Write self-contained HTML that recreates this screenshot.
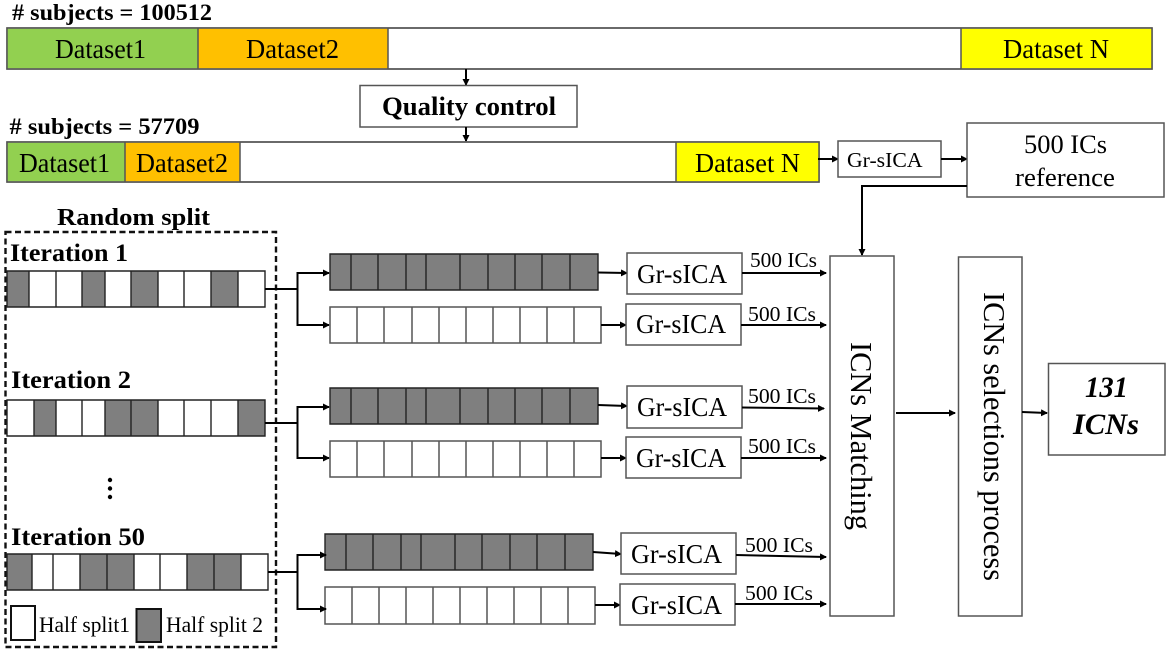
<!DOCTYPE html>
<html>
<head>
<meta charset="utf-8">
<style>
html,body{margin:0;padding:0;background:#fff;width:1170px;height:652px;overflow:hidden}
svg{display:block}
text{font-family:"Liberation Serif",serif;fill:#000}
.b{font-weight:bold}
.box{fill:#fff;stroke:#555;stroke-width:1.5}
.g{fill:#7f7f7f;stroke:none}
.o{fill:none;stroke:#555;stroke-width:1.5}
.d{fill:none;stroke:#333;stroke-width:1.2}
.dd{fill:none;stroke:#222;stroke-width:1.4}
.a{fill:none;stroke:#000;stroke-width:2}
</style>
</head>
<body>
<svg width="1170" height="652" viewBox="0 0 1170 652" xmlns="http://www.w3.org/2000/svg">
<defs>
<marker id="m" markerUnits="userSpaceOnUse" markerWidth="8" markerHeight="8" refX="6" refY="3.500" orient="auto"><path d="M0,0L7,3.500L0,7z" fill="#000"/></marker>
</defs>

<!-- top bar -->
<text class="b" x="12" y="20" font-size="23" textLength="200" lengthAdjust="spacingAndGlyphs"># subjects = 100512</text>
<rect x="7" y="28" width="1145" height="41" class="box"/>
<rect x="7" y="28.700" width="191" height="39.600" fill="#92d050"/>
<rect x="198" y="28.700" width="190" height="39.600" fill="#ffc000"/>
<rect x="961" y="28.700" width="191" height="39.600" fill="#ffff00"/>
<path class="o" d="M7,28H1152V69H7ZM198,28V69M388,28V69M961,28V69"/>
<text x="55" y="58" font-size="27" textLength="91" lengthAdjust="spacingAndGlyphs">Dataset1</text>
<text x="246" y="58" font-size="27" textLength="93" lengthAdjust="spacingAndGlyphs">Dataset2</text>
<text x="1003" y="58" font-size="27" textLength="106" lengthAdjust="spacingAndGlyphs">Dataset N</text>

<!-- quality control -->
<path class="a" d="M466,69V85" marker-end="url(#m)"/>
<rect x="360" y="85.500" width="217" height="41.500" class="box"/>
<text class="b" x="382" y="115" font-size="26" textLength="174" lengthAdjust="spacingAndGlyphs">Quality control</text>
<path class="a" d="M466,127V141" marker-end="url(#m)"/>

<!-- second bar -->
<text class="b" x="9.500" y="134" font-size="23" textLength="190" lengthAdjust="spacingAndGlyphs"># subjects = 57709</text>
<rect x="7" y="142" width="812" height="40" class="box"/>
<rect x="7" y="142.700" width="118" height="38.600" fill="#92d050"/>
<rect x="125" y="142.700" width="115" height="38.600" fill="#ffc000"/>
<rect x="676" y="142.700" width="143" height="38.600" fill="#ffff00"/>
<path class="o" d="M7,142H819V182H7ZM125,142V182M240,142V182M676,142V182"/>
<text x="19" y="172" font-size="27" textLength="91" lengthAdjust="spacingAndGlyphs">Dataset1</text>
<text x="136" y="172" font-size="27" textLength="92" lengthAdjust="spacingAndGlyphs">Dataset2</text>
<text x="695" y="172" font-size="27" textLength="105" lengthAdjust="spacingAndGlyphs">Dataset N</text>

<path class="a" d="M818,159H838" marker-end="url(#m)"/>
<rect x="838" y="141" width="103" height="36" class="box"/>
<text x="847" y="167" font-size="21" textLength="75.500" lengthAdjust="spacingAndGlyphs">Gr-sICA</text>
<path class="a" d="M941,159H967" marker-end="url(#m)"/>
<rect x="967" y="123" width="197" height="74" class="box"/>
<text x="1024" y="153" font-size="26" textLength="83" lengthAdjust="spacingAndGlyphs">500 ICs</text>
<text x="1015" y="186" font-size="26" textLength="100" lengthAdjust="spacingAndGlyphs">reference</text>
<path class="a" d="M967,186H862V255" marker-end="url(#m)"/>

<!-- random split -->
<text class="b" x="57" y="225" font-size="24" textLength="153" lengthAdjust="spacingAndGlyphs">Random split</text>
<rect x="5.500" y="232" width="270.500" height="415" fill="none" stroke="#111" stroke-width="2.400" stroke-dasharray="6 3.500"/>

<text class="b" x="10" y="261" font-size="25" textLength="118" lengthAdjust="spacingAndGlyphs">Iteration 1</text>
<g>
<rect class="g" x="7" y="271" width="22" height="36"/>
<rect class="g" x="82" y="271" width="23" height="36"/>
<rect class="g" x="131" y="271" width="27" height="36"/>
<rect class="g" x="211" y="271" width="27" height="36"/>
<path class="dd" d="M7,271H265V307H7ZM29,271V307M56,271V307M82,271V307M105,271V307M131,271V307M158,271V307M184,271V307M211,271V307M238,271V307"/>
</g>

<text class="b" x="11" y="388" font-size="25" textLength="120" lengthAdjust="spacingAndGlyphs">Iteration 2</text>
<g>
<rect class="g" x="34" y="400" width="22" height="36"/>
<rect class="g" x="105" y="400" width="53" height="36"/>
<rect class="g" x="238" y="400" width="27" height="36"/>
<path class="dd" d="M7,400H265V436H7ZM34,400V436M56,400V436M82,400V436M105,400V436M131,400V436M158,400V436M184,400V436M211,400V436M238,400V436"/>
</g>

<circle cx="110" cy="480" r="2.200" fill="#000"/>
<circle cx="110" cy="488.500" r="2.200" fill="#000"/>
<circle cx="110" cy="497" r="2.200" fill="#000"/>

<text class="b" x="11" y="545" font-size="25" textLength="134" lengthAdjust="spacingAndGlyphs">Iteration 50</text>
<g>
<rect class="g" x="7" y="554" width="25" height="36"/>
<rect class="g" x="80" y="554" width="54" height="36"/>
<rect class="g" x="187" y="554" width="54" height="36"/>
<path class="dd" d="M7,554H268V590H7ZM32,554V590M53,554V590M80,554V590M107,554V590M134,554V590M160,554V590M187,554V590M214,554V590M241,554V590"/>
</g>

<rect x="11" y="606" width="24" height="34" fill="#fff" stroke="#111" stroke-width="2"/>
<text x="39" y="632" font-size="22" textLength="91" lengthAdjust="spacingAndGlyphs">Half split1</text>
<rect x="136.500" y="609" width="24.500" height="33" fill="#7f7f7f" stroke="#111" stroke-width="2"/>
<text x="166" y="632" font-size="22" textLength="97" lengthAdjust="spacingAndGlyphs">Half split 2</text>

<!-- split connectors -->
<path class="a" d="M265,289H297.500"/>
<path class="a" d="M297.500,289V273H329" marker-end="url(#m)"/>
<path class="a" d="M297.500,289V325H329" marker-end="url(#m)"/>
<path class="a" d="M265,423H297.500"/>
<path class="a" d="M297.500,423V407H329" marker-end="url(#m)"/>
<path class="a" d="M297.500,423V458H329" marker-end="url(#m)"/>
<path class="a" d="M268,572H297.500"/>

<!-- right bars -->
<rect class="g" x="330" y="254" width="268" height="36"/>
<path class="dd" d="M330,254H598V290H330ZM351,254V290M378,254V290M406,254V290M426,254V290M460,254V290M488,254V290M515,254V290M542,254V290M570,254V290"/>
<path class="o" d="M330,307H601V343H330ZM357,307V343M384,307V343M412,307V343M439,307V343M466,307V343M493,307V343M520,307V343M547,307V343M574,307V343"/>
<rect class="g" x="330" y="388" width="268" height="36"/>
<path class="dd" d="M330,388H598V424H330ZM351,388V424M378,388V424M406,388V424M426,388V424M460,388V424M488,388V424M515,388V424M542,388V424M570,388V424"/>
<path class="o" d="M330,441H601V477H330ZM357,441V477M384,441V477M412,441V477M439,441V477M466,441V477M493,441V477M520,441V477M547,441V477M574,441V477"/>
<rect class="g" x="325" y="534" width="268" height="36"/>
<path class="dd" d="M325,534H593V570H325ZM346,534V570M373,534V570M401,534V570M421,534V570M455,534V570M482,534V570M510,534V570M537,534V570M565,534V570"/>
<path class="o" d="M325,587H595V624H325ZM352,587V624M379,587V624M406,587V624M433,587V624M460,587V624M487,587V624M514,587V624M541,587V624M568,587V624"/>

<!-- iteration 50 arrows drawn over the bar edge -->
<path class="a" d="M297.500,572V555H326" marker-end="url(#m)"/>
<path class="a" d="M297.500,572V609H326" marker-end="url(#m)"/>

<!-- bar to Gr-sICA -->
<path class="a" d="M598,272.500L627,273" marker-end="url(#m)"/>
<path class="a" d="M601,325L626,325" marker-end="url(#m)"/>
<path class="a" d="M598,405L627,406" marker-end="url(#m)"/>
<path class="a" d="M601,458L626,458" marker-end="url(#m)"/>
<path class="a" d="M593,552L621,554" marker-end="url(#m)"/>
<path class="a" d="M595,605L620,605" marker-end="url(#m)"/>

<!-- Gr-sICA boxes -->
<rect x="627" y="253" width="115" height="41" class="box"/>
<text x="637" y="283" font-size="27" textLength="90" lengthAdjust="spacingAndGlyphs">Gr-sICA</text>
<rect x="626" y="304" width="115" height="41" class="box"/>
<text x="636" y="333" font-size="27" textLength="90" lengthAdjust="spacingAndGlyphs">Gr-sICA</text>
<rect x="627" y="386" width="115" height="42" class="box"/>
<text x="637" y="416" font-size="27" textLength="90" lengthAdjust="spacingAndGlyphs">Gr-sICA</text>
<rect x="626" y="437" width="115" height="41" class="box"/>
<text x="636" y="467" font-size="27" textLength="90" lengthAdjust="spacingAndGlyphs">Gr-sICA</text>
<rect x="621" y="533" width="115" height="41" class="box"/>
<text x="631" y="563" font-size="27" textLength="91" lengthAdjust="spacingAndGlyphs">Gr-sICA</text>
<rect x="620" y="584" width="115" height="41" class="box"/>
<text x="631" y="614" font-size="27" textLength="91" lengthAdjust="spacingAndGlyphs">Gr-sICA</text>

<!-- 500 ICs arrows -->
<path class="a" d="M742,273H826" marker-end="url(#m)"/>
<text x="750" y="267" font-size="21" textLength="67" lengthAdjust="spacingAndGlyphs">500 ICs</text>
<path class="a" d="M741,325H826" marker-end="url(#m)"/>
<text x="748" y="321" font-size="21" textLength="68" lengthAdjust="spacingAndGlyphs">500 ICs</text>
<path class="a" d="M742,407.500L824,408.500" marker-end="url(#m)"/>
<text x="748" y="403" font-size="21" textLength="68" lengthAdjust="spacingAndGlyphs">500 ICs</text>
<path class="a" d="M741,458H826" marker-end="url(#m)"/>
<text x="748" y="453" font-size="21" textLength="68" lengthAdjust="spacingAndGlyphs">500 ICs</text>
<path class="a" d="M736,555L826,557" marker-end="url(#m)"/>
<text x="745" y="552" font-size="21" textLength="68" lengthAdjust="spacingAndGlyphs">500 ICs</text>
<path class="a" d="M735,604H826" marker-end="url(#m)"/>
<text x="745" y="600" font-size="21" textLength="68" lengthAdjust="spacingAndGlyphs">500 ICs</text>

<!-- ICNs Matching -->
<rect x="830" y="256" width="64" height="360" class="box"/>
<text transform="translate(851,342) rotate(90)" x="0" y="0" font-size="31" textLength="188" lengthAdjust="spacingAndGlyphs">ICNs Matching</text>
<path class="a" d="M896,413H955" marker-end="url(#m)"/>

<!-- ICNs selections -->
<rect x="958.500" y="257" width="63.500" height="359" class="box"/>
<text transform="translate(984,292) rotate(90)" x="0" y="0" font-size="31" textLength="289" lengthAdjust="spacingAndGlyphs">ICNs selections process</text>
<path class="a" d="M1022,412L1047,413" marker-end="url(#m)"/>

<!-- 131 ICNs -->
<rect x="1048.500" y="363.500" width="116.500" height="91.500" class="box"/>
<text class="b" font-style="italic" x="1085" y="397" font-size="30" textLength="43" lengthAdjust="spacingAndGlyphs">131</text>
<text class="b" font-style="italic" x="1073" y="434" font-size="30" textLength="66" lengthAdjust="spacingAndGlyphs">ICNs</text>
</svg>
</body>
</html>
